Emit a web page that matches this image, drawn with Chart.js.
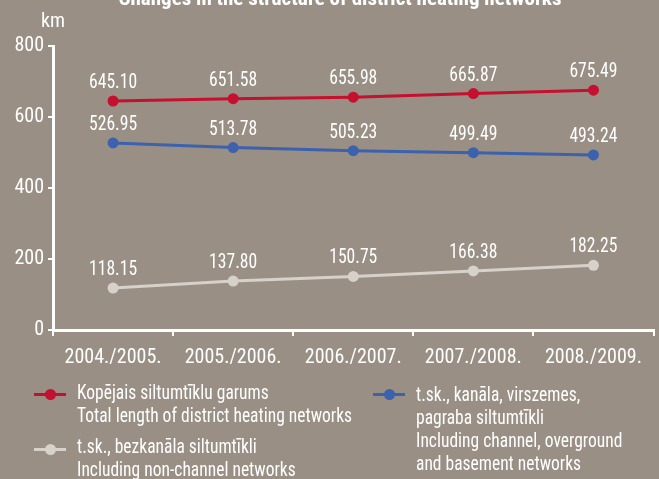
<!DOCTYPE html>
<html>
<head>
<meta charset="utf-8">
<script src="https://cdn.jsdelivr.net/npm/chart.js@4"></script>
<style>
  html, body { margin: 0; padding: 0; }
  body {
    width: 659px; height: 479px; overflow: hidden; position: relative;
    background: #998f85;
    font-family: 'Roboto Condensed', 'DejaVu Sans Condensed', sans-serif;
    color: #fff;
  }
  #wrap { position: absolute; left: 0; top: 0; width: 659px; height: 479px; }
  .title {
    position: absolute; left: 0; width: 680px; top: -14px; text-align: center;
    font-weight: bold; font-size: 21px;
  }
  .unit { position: absolute; left: 41px; top: 8px; font-size: 20px; }
  .legend-item { position: absolute; font-size: 20px; line-height: 23px; }
  .marker { position: absolute; left: 0; width: 32px; height: 3px; }
  .marker i {
    position: absolute; left: 11px; top: -4px; width: 11px; height: 11px; border-radius: 50%;
  }
  .legend-text {
    display: inline-block; margin-left: 43px; white-space: nowrap;
    transform: scaleX(0.875); transform-origin: left center;
  }
</style>
</head>
<body>
<div id="wrap"><canvas id="chart" width="659" height="479"></canvas></div>
<div class="title">Changes in the structure of district heating networks</div>
<div class="unit">km</div>
<div id="legend"></div>
<script>
// values
const years = ['2004./2005.', '2005./2006.', '2006./2007.', '2007./2008.', '2008./2009.'];
const totalLength = [645.10, 651.58, 655.98, 665.87, 675.49];
const channelNetworks = [526.95, 513.78, 505.23, 499.49, 493.24];
const nonChannelNetworks = [118.15, 137.80, 150.75, 166.38, 182.25];

const totalLabel = ['Kopējais siltumtīklu garums', 'Total length of district heating networks'];
const channelLabel = ['t.sk., kanāla, virszemes,', 'pagraba siltumtīkli', 'Including channel, overground', 'and basement networks'];
const nonChannelLabel = ['t.sk., bezkanāla siltumtīkli', 'Including non-channel networks'];

const RED = '#c5102f';
const BLUE = '#3d62ad';
const GREY = '#d6d1ca';
const FONT = "'Roboto Condensed', 'DejaVu Sans Condensed', sans-serif";

function series(data, color) {
  return {
    data: data,
    borderColor: color,
    backgroundColor: color,
    borderWidth: 3,
    pointRadius: 5.5,
    pointHoverRadius: 5.5,
    pointBorderWidth: 0,
    tension: 0
  };
}

// value labels above each point (font squeezed a bit to match the narrow original)
const valueLabels = {
  id: 'valueLabels',
  afterDatasetsDraw(chart) {
    const ctx = chart.ctx;
    chart.data.datasets.forEach((ds, i) => {
      chart.getDatasetMeta(i).data.forEach((pt, j) => {
        ctx.save();
        ctx.font = '20px ' + FONT;
        ctx.fillStyle = '#fff';
        ctx.textAlign = 'center';
        ctx.textBaseline = 'bottom';
        ctx.translate(pt.x, pt.y - 8);
        ctx.scale(0.88, 1);
        ctx.fillText(ds.data[j].toFixed(2), 0, 0);
        ctx.restore();
      });
    });
  }
};

new Chart(document.getElementById('chart'), {
  type: 'line',
  data: {
    labels: years,
    datasets: [
      series(nonChannelNetworks, GREY),
      series(channelNetworks, BLUE),
      series(totalLength, RED)
    ]
  },
  options: {
    responsive: false,
    animation: false,
    layout: { padding: { top: 46, left: 0, right: 0, bottom: 109 } },
    plugins: {
      legend: { display: false },
      tooltip: { enabled: false }
    },
    scales: {
      x: {
        offset: true,
        grid: { offset: true, drawOnChartArea: false, drawTicks: true, tickLength: 6, color: '#fff', lineWidth: 2 },
        border: { color: '#fff', width: 3 },
        ticks: { color: '#fff', font: { size: 20, family: FONT }, padding: 10, maxRotation: 0 },
        afterFit(scale) { scale.height = 40; }
      },
      y: {
        min: 0, max: 800,
        grid: { drawOnChartArea: false, drawTicks: true, tickLength: 5, color: '#fff', lineWidth: 2 },
        border: { color: '#fff', width: 3 },
        ticks: { stepSize: 200, color: '#fff', font: { size: 20, family: FONT }, padding: 4 },
        afterFit(scale) { scale.width = 53; }
      }
    }
  },
  plugins: [valueLabels]
});

// legend built from the labels above
function addLegend(lines, color, left, top, markerTop) {
  const item = document.createElement('div');
  item.className = 'legend-item';
  item.style.left = left + 'px';
  item.style.top = top + 'px';
  const marker = document.createElement('span');
  marker.className = 'marker';
  marker.style.background = color;
  marker.style.top = markerTop + 'px';
  const dot = document.createElement('i');
  dot.style.background = color;
  marker.appendChild(dot);
  item.appendChild(marker);
  const text = document.createElement('div');
  text.className = 'legend-text';
  text.innerHTML = lines.join('<br>');
  item.appendChild(text);
  document.getElementById('legend').appendChild(item);
}
addLegend(totalLabel, RED, 34, 381, 12);
addLegend(nonChannelLabel, GREY, 34, 435, 13);
addLegend(channelLabel, BLUE, 373, 383, 10);
</script>
</body>
</html>
